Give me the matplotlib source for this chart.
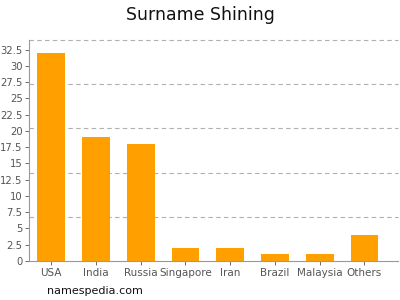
import matplotlib
matplotlib.use("Agg")
import matplotlib.pyplot as plt
import numpy as np

countries = ["USA", "India", "Russia", "Singapore", "Iran", "Brazil", "Malaysia", "Others"]
counts = [32, 19, 18, 2, 2, 1, 1, 4]
yticks = [0, 2.5, 5, 7.5, 10, 12.5, 15, 17.5, 20, 22.5, 25, 27.5, 30, 32.5]
gridlines = [6.8, 13.6, 20.4, 27.2, 34]

fig = plt.figure(figsize=(4, 3), dpi=100)
ax = fig.add_axes([0.072, 0.13, 0.923, 0.737])

x = np.arange(len(countries))
ax.bar(x, counts, width=0.62, color="#ffa000", zorder=2)

for g in gridlines:
    ax.axhline(g, color="#b0b0b0", linestyle=(0, (4, 3)), linewidth=0.8, zorder=1, clip_on=False)

ax.set_xlim(-0.5, 7.75)
ax.set_ylim(0, 34)
ax.set_xticks(x)
ax.set_xticklabels(countries)
ax.set_yticks(yticks)
ax.set_yticklabels([f"{t:g}" for t in yticks])
ax.tick_params(axis="y", labelsize=7.2, colors="#555555", length=3, width=0.6, pad=1.5)
ax.tick_params(axis="x", labelsize=7.5, colors="#555555", length=3, width=0.6, pad=2)

for s in ["top", "right"]:
    ax.spines[s].set_visible(False)
for s in ["left", "bottom"]:
    ax.spines[s].set_color("#999999")
    ax.spines[s].set_linewidth(0.8)

fig.text(0.5, 0.95, "Surname Shining", ha="center", va="center", fontsize=12.5, color="#111111")
fig.text(0.117, 0.03, "namespedia.com", ha="left", va="center", fontsize=8, color="#111111")

fig.savefig("out.png", dpi=100)
